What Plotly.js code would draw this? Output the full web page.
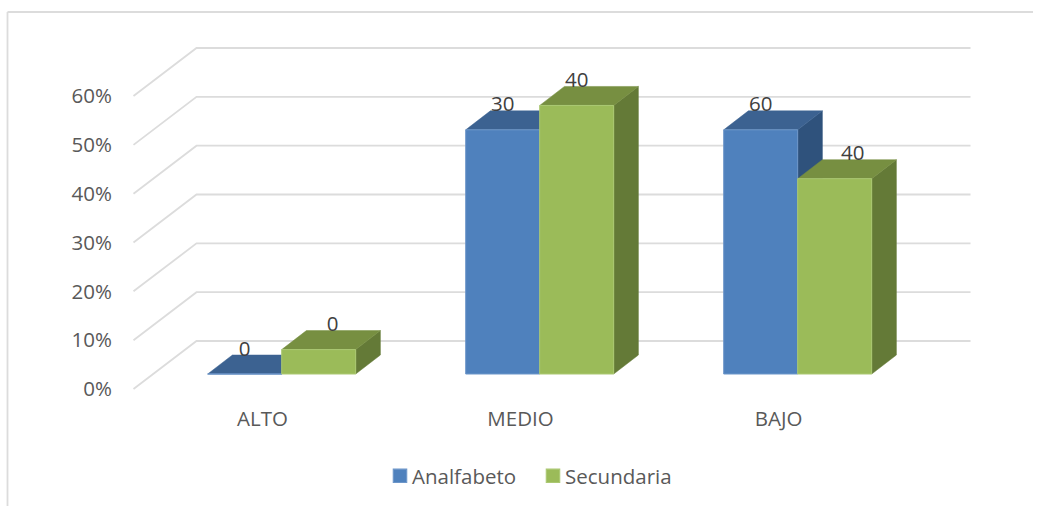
<!DOCTYPE html>
<html><head><meta charset="utf-8">
<script src="https://cdn.plot.ly/plotly-3.0.1.min.js"></script>
<style>html,body{margin:0;padding:0;background:#fff}#c{width:1041px;height:506px}</style>
</head><body><div id="c"></div>
<script>
const categories = ['ALTO','MEDIO','BAJO'];
const analfabeto = [0,50,50];
const secundaria = [5,55,40];
const analfabetoLabels = ['0','30','60'];
const secundariaLabels = ['0','40','40'];
const yTicks = [0,10,20,30,40,50,60];
const yTickLabels = ['0%','10%','20%','30%','40%','50%','60%'];

const W=1041,H=506;
const catPx=258, valPx=4.883;
const pos = categories.map((c,i)=>i);
// front plane (axes labels): category 0 at px 262, 0% at px 389
const xr=(c)=>[-c/catPx,(W-c)/catPx];
const yr=(z)=>[(z-H)/valPx,z/valPx];
// depth of the wall and of the bars, in data units
const wallDX=63/catPx, wallDY=48/valPx;
const barDX=24.7/catPx, barDY=19/valPx;
const barW=74/catPx;
const line={color:'#dcdcdc',width:1.8};

const traces=[];
// Wall gridlines
yTicks.forEach(v=>{
  traces.push({type:'scatter',mode:'lines',xaxis:'x',yaxis:'y',showlegend:false,hoverinfo:'skip',line,
    x:[-0.5,-0.5+wallDX,2.5+wallDX],y:[v,v+wallDY,v+wallDY]});
});
function poly(x,y,color){
  traces.push({type:'scatter',mode:'lines',xaxis:'x2',yaxis:'y2',showlegend:false,hoverinfo:'skip',
    x,y,fill:'toself',fillcolor:color,line:{color:color,width:0.5}});
}
function faces(vals,off,topC,sideC){
  vals.forEach((v,i)=>{
    const l=i+off, r=l+barW;
    poly([r,r+barDX,r+barDX,r,r],[0,barDY,v+barDY,v,0],sideC);
    poly([l,l+barDX,r+barDX,r,l],[v,v+barDY,v+barDY,v,v],topC);
  });
}
faces(analfabeto,-barW,'#3c6291','#2f527c');
faces(secundaria,0,'#778f41','#647a37');
// Front faces
traces.push({type:'bar',name:'Analfabeto',x:pos,y:analfabeto,xaxis:'x3',yaxis:'y3',hoverinfo:'skip',
  marker:{color:'#4f81bd',line:{color:'#6d96c9',width:1}}});
traces.push({type:'bar',name:'Secundaria',x:pos,y:secundaria,xaxis:'x3',yaxis:'y3',hoverinfo:'skip',
  marker:{color:'#9bbb59',line:{color:'#abc872',width:1}}});
// Data labels
const lift=23.5/valPx;
const secundariaLabelShift=[14/catPx,0,18/catPx];
const labelFont={family:'Open Sans',size:20.5,color:'#404040'};
traces.push({type:'scatter',mode:'text',xaxis:'x3',yaxis:'y3',showlegend:false,hoverinfo:'skip',
  x:pos.map(i=>i-barW/2),y:analfabeto.map(v=>v+lift),text:analfabetoLabels,textposition:'middle center',textfont:labelFont});
traces.push({type:'scatter',mode:'text',xaxis:'x3',yaxis:'y3',showlegend:false,hoverinfo:'skip',
  x:pos.map(i=>i+barW/2+secundariaLabelShift[i]),y:secundaria.map(v=>v+lift),text:secundariaLabels,textposition:'middle center',textfont:labelFont});

const tickFont={family:'Open Sans',size:20.5,color:'#595959'};
const hidden=(o)=>Object.assign({visible:false,domain:[0,1],fixedrange:true},o);
const layout={
  width:W,height:H,margin:{l:0,r:0,t:0,b:0},paper_bgcolor:'#fff',plot_bgcolor:'rgba(0,0,0,0)',
  barmode:'group',bargap:1-2*barW,bargroupgap:0,
  xaxis:{domain:[0,1],range:xr(262.5),tickmode:'array',tickvals:pos,ticktext:categories,tickfont:tickFont,
    showgrid:false,zeroline:false,showline:false,ticks:'outside',ticklen:11,tickcolor:'rgba(0,0,0,0)',
    anchor:'free',position:(H-389)/H,fixedrange:true},
  yaxis:{domain:[0,1],range:yr(389),tickmode:'array',tickvals:yTicks,ticktext:yTickLabels,tickfont:tickFont,
    showgrid:false,zeroline:false,showline:false,ticks:'outside',ticklen:18,tickcolor:'rgba(0,0,0,0)',
    anchor:'free',position:134/W,fixedrange:true},
  xaxis2:hidden({range:xr(281.7),overlaying:'x',anchor:'y2'}),
  yaxis2:hidden({range:yr(374),overlaying:'y',anchor:'x2'}),
  xaxis3:hidden({range:xr(281.7),overlaying:'x',anchor:'y3'}),
  yaxis3:hidden({range:yr(374),overlaying:'y',anchor:'x3'}),
  showlegend:true,
  legend:{orientation:'h',x:372/W,xanchor:'left',y:(H-476)/H,yanchor:'middle',font:{family:'Open Sans',size:20.5,color:'#595959'},
    entrywidth:108,entrywidthmode:'pixels',bgcolor:'rgba(0,0,0,0)',itemclick:false,itemdoubleclick:false},
  shapes:[
    {type:'line',xref:'paper',yref:'paper',x0:7.5/W,x1:1033/W,y0:(H-12)/H,y1:(H-12)/H,line},
    {type:'line',xref:'paper',yref:'paper',x0:7.5/W,x1:7.5/W,y0:(H-12)/H,y1:0,line}
  ]
};
Plotly.newPlot('c',traces,layout,{displayModeBar:false}).then(gd=>{
  // Excel-style legend: larger swatch sitting close to its text
  gd.querySelectorAll('.legend .legendpoints').forEach(n=>{
    n.setAttribute('transform','translate(5.6,0) scale(1.12)');
  });
});
</script></body></html>
